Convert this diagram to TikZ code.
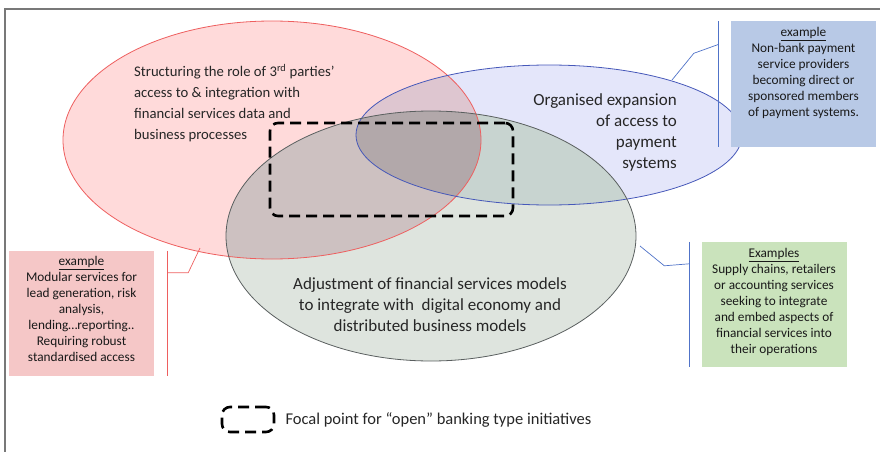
\documentclass[tikz,border=0pt]{standalone}
\usepackage{fontspec}
\setmainfont{Carlito}
\usepackage{xcolor}
\usetikzlibrary{positioning}

\definecolor{redfill}{RGB}{255,218,218}
\definecolor{bluefill}{RGB}{228,230,250}
\definecolor{grayfill}{RGB}{222,228,222}
\definecolor{redblue}{RGB}{222,198,208}
\definecolor{redgray}{RGB}{205,193,193}
\definecolor{bluegray}{RGB}{200,212,208}
\definecolor{allthree}{RGB}{178,168,170}
\definecolor{rededge}{RGB}{238,95,95}
\definecolor{blueedge}{RGB}{70,88,185}
\definecolor{grayedge}{RGB}{90,95,95}
\definecolor{linkblue}{RGB}{80,115,200}
\definecolor{redbox}{RGB}{245,199,199}
\definecolor{bluebox}{RGB}{184,201,230}
\definecolor{greenbox}{RGB}{202,227,188}
\definecolor{framegray}{RGB}{120,120,120}

\tikzset{
    vennlabel/.style={
        font=\fontsize{17}{21}\selectfont,
        text=black!85,
        inner sep=0pt,
    },
    examplebox/.style={
        rectangle,
        minimum width=145pt,
        minimum height=125pt,
        inner sep=0pt,
    },
    exampletext/.style={
        font=\fontsize{13.3}{16}\selectfont,
        text=black!90,
        align=center,
        inner sep=0pt,
    },
    focal/.style={
        draw=black,
        line width=2.6pt,
        dash pattern=on 11pt off 6pt,
        rounded corners=8pt,
        inner sep=0pt,
    },
}

\begin{document}
\begin{tikzpicture}[x=1pt,y=-1pt]
      \useasboundingbox (0,0) rectangle (880,452);
      \draw[framegray, line width=1.5pt] (5,452) -- (5,9) -- (880,9);

      % the three circles of the diagram
      \fill[redfill] (272,140) ellipse (209 and 119);
      \fill[bluefill] (549,135) ellipse (193 and 70);
      \fill[grayfill] (431,236) ellipse (205 and 125);

      \begin{scope}
        \clip (549,135) ellipse (193 and 70);
        \fill[bluegray] (431,236) ellipse (205 and 125);
      \end{scope}
      \begin{scope}
        \clip (272,140) ellipse (209 and 119);
        \fill[redblue] (549,135) ellipse (193 and 70);
        \fill[redgray] (431,236) ellipse (205 and 125);
        \clip (549,135) ellipse (193 and 70);
        \fill[allthree] (431,236) ellipse (205 and 125);
      \end{scope}

      \draw[rededge, line width=0.8pt] (272,140) ellipse (209 and 119);
      \draw[blueedge, line width=0.8pt] (549,135) ellipse (193 and 70);
      \draw[grayedge, line width=0.8pt] (431,236) ellipse (205 and 125);

      \node [vennlabel, font=\fontsize{14.7}{21}\selectfont, align=left, anchor=west] (roles) at (134,103)
        {Structuring the role of 3\textsuperscript{rd} parties’\\access to \& integration with\\financial services data and\\business processes};
      \node [vennlabel, align=right, anchor=east] (payments) at (677,132.5)
        {Organised expansion\\of access to\\payment\\systems};
      \node [vennlabel, align=center] (models) at (430,304.5)
        {Adjustment of financial services models\\to integrate with\ \ digital economy and\\distributed business models};

      \node [focal, minimum width=243pt, minimum height=93pt] (focus) at (391.5,169.5) {};

      % example boxes
      \node [examplebox, fill=redbox] (redex) at (81.5,313.5) {};
      \node [exampletext, anchor=north] at ([yshift=-5pt]redex.north)
        {\underline{example}\\Modular services for\\lead generation, risk\\analysis,\\lending…reporting..\\Requiring robust\\standardised access};

      \node [examplebox, fill=bluebox] (blueex) at (803.5,84) {};
      \node [exampletext, anchor=north] at ([yshift=-6pt]blueex.north)
        {\underline{example}\\Non-bank payment\\service providers\\becoming direct or\\sponsored members\\of payment systems.};

      \node [examplebox, fill=greenbox] (greenex) at (774,304.5) {};
      \node [exampletext, anchor=north] at ([yshift=-6pt]greenex.north)
        {\underline{Examples}\\Supply chains, retailers\\or accounting services\\seeking to integrate\\and embed aspects of\\financial services into\\their operations};

      % brackets pointing at the circles
      \coordinate (red-tip) at (200,248);
      \coordinate (blue-tip) at (672,80);
      \coordinate (gray-tip) at (640,246);
      \coordinate (red-joint) at ([xshift=13pt,yshift=-22pt]redex.north east);
      \coordinate (blue-joint) at ([xshift=-12pt,yshift=-23pt]blueex.north west);
      \coordinate (green-joint) at ([xshift=-12pt,yshift=-22pt]greenex.north west);

      \draw[rededge, line width=0.7pt] ([xshift=13pt]redex.north east) -- ([xshift=13pt]redex.south east);
      \draw[rededge, line width=0.7pt] (red-joint) -- ++(21,0) -- (red-tip);

      \draw[linkblue, line width=0.7pt] ([xshift=-12pt]blueex.north west) -- ([xshift=-12pt]blueex.south west);
      \draw[linkblue, line width=0.7pt] (blue-joint) -- ++(-25,9) -- (blue-tip);

      \draw[linkblue, line width=0.7pt] ([xshift=-12pt]greenex.north west) -- ([xshift=-12pt]greenex.south west);
      \draw[linkblue, line width=0.7pt] (green-joint) -- ++(-25,2) -- (gray-tip);

      % legend
      \node [focal, minimum width=52pt, minimum height=25pt] (legend) at (248,419.5) {};
      \node [vennlabel, font=\fontsize{16.5}{21}\selectfont, right=10pt of legend] (legendtext) {Focal point for “open” banking type initiatives};

    \end{tikzpicture}
\end{document}
